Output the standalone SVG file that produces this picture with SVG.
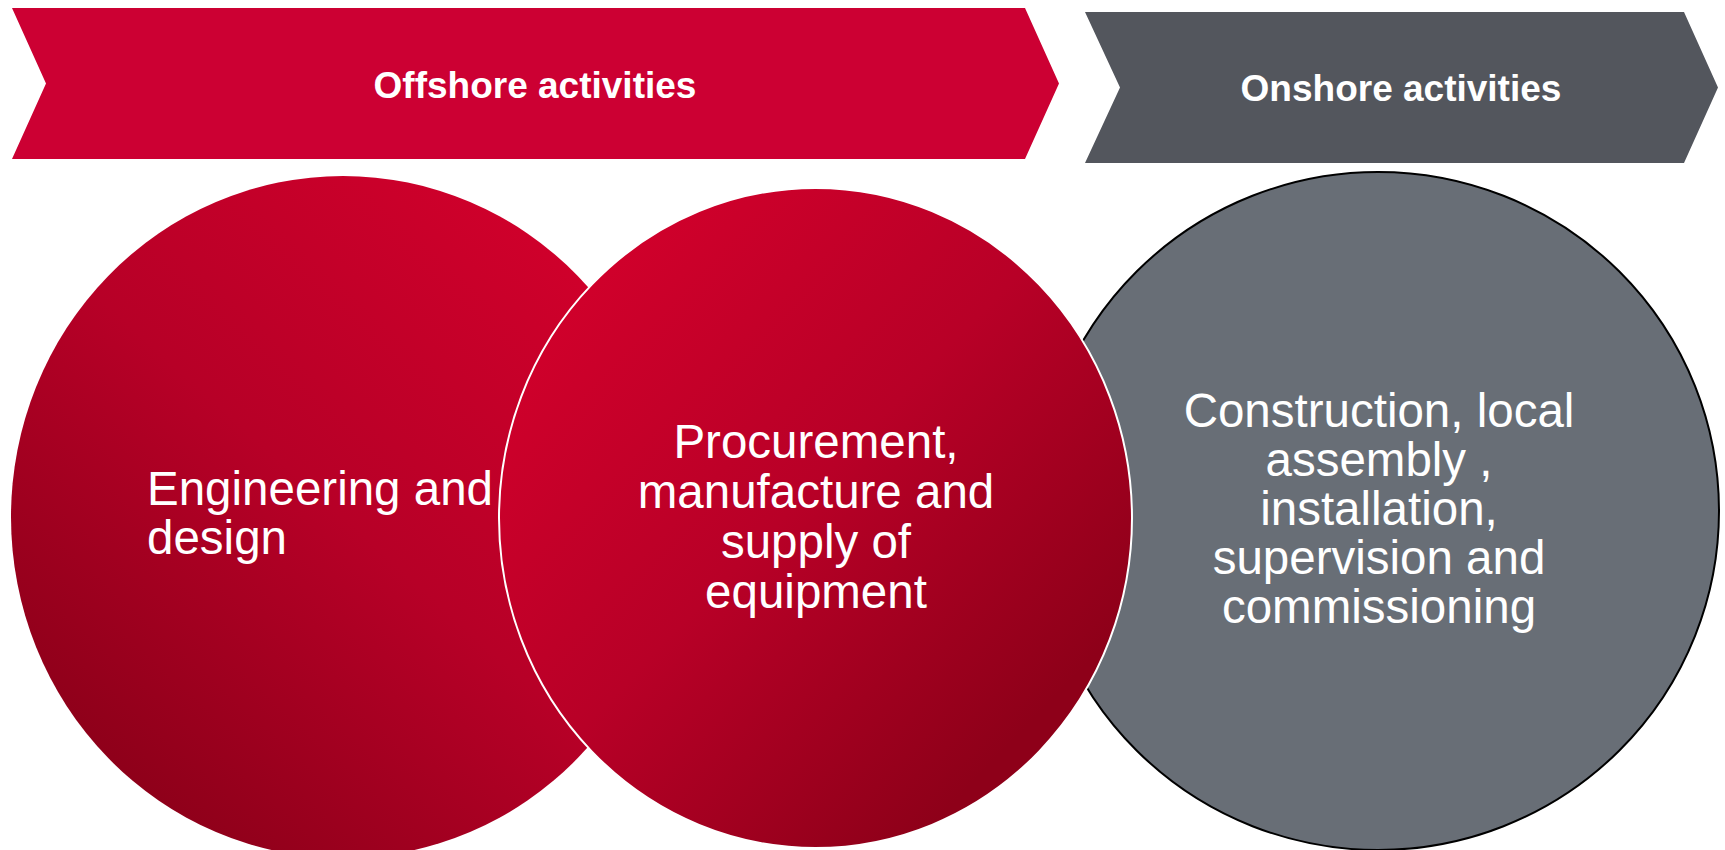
<svg xmlns="http://www.w3.org/2000/svg" width="1725" height="850" viewBox="0 0 1725 850">
  <style>
    .title { font-family: "Liberation Sans", Arial, sans-serif; font-weight: bold; font-size: 37px; fill: #ffffff; text-anchor: middle; }
    .body { font-family: "Liberation Sans", Arial, sans-serif; font-size: 47.5px; fill: #ffffff; }
    .mid { text-anchor: middle; }
  </style>
  <defs>
    <linearGradient id="gradA" x1="0.85" y1="0.1" x2="0.15" y2="0.9">
      <stop offset="0" stop-color="#D0002B"/>
      <stop offset="0.5" stop-color="#B70027"/>
      <stop offset="1" stop-color="#8C0019"/>
    </linearGradient>
    <linearGradient id="gradB" x1="0.15" y1="0.1" x2="0.85" y2="0.8">
      <stop offset="0" stop-color="#D1002B"/>
      <stop offset="0.5" stop-color="#B80027"/>
      <stop offset="1" stop-color="#8E0019"/>
    </linearGradient>
  </defs>

  <g id="offshore-header">
    <polygon points="12,8 1025,8 1059,83.5 1025,159 12,159 46,83.5" fill="#CC0033"/>
    <text class="title" x="535" y="98">Offshore activities</text>
  </g>

  <g id="onshore-header">
    <polygon points="1085,12 1684,12 1718,87.5 1684,163 1085,163 1120,87.5" fill="#53565D"/>
    <text class="title" x="1401" y="101">Onshore activities</text>
  </g>

  <g id="engineering">
    <ellipse cx="343" cy="517" rx="332" ry="341" fill="url(#gradA)"/>
    <text class="body" x="147" y="505">Engineering and</text>
    <text class="body" x="147" y="554">design</text>
  </g>

  <g id="construction">
    <ellipse cx="1378" cy="511" rx="341" ry="339" fill="#686E76" stroke="#000000" stroke-width="2"/>
    <text class="body mid" x="1379" y="427">Construction, local</text>
    <text class="body mid" x="1379" y="476">assembly ,</text>
    <text class="body mid" x="1379" y="525">installation,</text>
    <text class="body mid" x="1379" y="574">supervision and</text>
    <text class="body mid" x="1379" y="623">commissioning</text>
  </g>

  <g id="procurement">
    <ellipse cx="815.5" cy="518" rx="316.5" ry="330" fill="url(#gradB)" stroke="#ffffff" stroke-width="2"/>
    <text class="body mid" x="816" y="458">Procurement,</text>
    <text class="body mid" x="816" y="508">manufacture and</text>
    <text class="body mid" x="816" y="558">supply of</text>
    <text class="body mid" x="816" y="608">equipment</text>
  </g>

  <g id="connectors"/>
</svg>
